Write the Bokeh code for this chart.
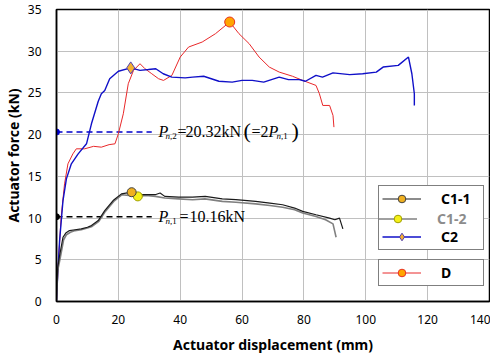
from bokeh.plotting import figure
from bokeh.models import Legend, LegendItem, Label, Range1d, FixedTicker
from bokeh.embed import file_html
from bokeh.resources import INLINE

# ---------------- data ----------------
c11_x = [0, 0.2, 0.4, 1.0, 2.1, 3.0, 4.2, 6.0, 8.0, 10.0, 11.3, 13.5, 15.6, 18.3, 21.0, 24.3, 28.0, 31.9, 33.5, 35.0,
         39.5, 44.0, 48.1, 53.6, 58.0, 64.4, 69.0, 73.1, 77.0, 79.6, 83.9, 88.3, 90.0, 91.5, 92.6]
c11_y = [0, 2.5, 4.1, 5.5, 7.7, 8.2, 8.5, 8.6, 8.7, 8.9, 9.1, 9.7, 10.9, 12.1, 12.9, 13.1, 12.8, 12.8, 13.0, 12.6,
         12.5, 12.5, 12.6, 12.3, 12.2, 12.0, 11.8, 11.6, 11.2, 10.8, 10.4, 10.0, 9.8, 10.0, 8.7]

c12_x = [0, 0.2, 0.5, 1.2, 2.3, 3.2, 4.5, 6.0, 8.0, 10.0, 11.5, 13.7, 15.8, 18.5, 21.2, 26.3, 29.0, 32.0, 35.0,
         39.5, 44.0, 48.0, 53.6, 58.0, 64.4, 69.0, 73.1, 77.0, 79.6, 83.9, 87.0, 89.4, 90.4]
c12_y = [0, 2.2, 3.9, 5.2, 7.4, 8.0, 8.3, 8.5, 8.6, 8.8, 9.0, 9.6, 10.8, 12.0, 12.8, 12.6, 12.7, 12.6, 12.4,
         12.3, 12.2, 12.3, 12.0, 11.9, 11.7, 11.5, 11.3, 11.0, 10.6, 10.2, 9.8, 9.3, 7.7]

c2_x = [0, 0.4, 1.0, 2.1, 3.2, 4.8, 7.0, 9.7, 11.3, 13.5, 14.5, 15.6, 17.2, 20.0, 24.0, 27.0, 29.7, 32.1, 34.5,
        37.3, 41.6, 44.0, 47.6, 52.5, 56.8, 60.0, 63.3, 67.0, 72.0, 75.0, 78.5, 80.5, 83.9, 86.0, 89.4, 94.8,
        99.0, 103.4, 105.6, 110.5, 113.8, 114.9, 115.7, 115.7]
c2_y = [0, 3.3, 7.3, 12.1, 14.7, 16.5, 17.7, 18.9, 21.3, 24.0, 24.9, 25.3, 26.7, 27.6, 28.0, 27.7, 27.8, 27.9, 27.3,
        26.9, 26.8, 26.9, 27.0, 26.4, 26.3, 26.5, 26.5, 26.3, 26.9, 26.6, 26.6, 26.4, 27.1, 26.9, 27.4, 27.2,
        27.3, 27.5, 28.1, 28.3, 29.3, 27.3, 24.9, 23.5]

d_x = [0, 0.5, 1.5, 2.6, 3.7, 5.3, 6.4, 9.1, 12.0, 14.5, 17.0, 18.9, 20.0, 21.6, 23.2, 24.9, 27.0, 28.6, 30.8,
       33.0, 34.6, 37.3, 40.0, 42.7, 47.1, 51.4, 56.0, 59.0, 62.3, 65.5, 68.8, 72.0, 76.3, 79.6, 83.9, 85.0,
       86.1, 88.3, 89.4, 89.7]
d_y = [0, 4.0, 10.1, 14.1, 16.5, 17.7, 18.3, 18.3, 18.6, 18.5, 18.8, 18.9, 20.1, 22.5, 26.1, 27.7, 28.5, 27.9, 27.3,
       26.7, 26.5, 27.1, 29.3, 30.5, 31.1, 32.1, 33.5, 32.1, 30.9, 29.3, 28.1, 27.5, 27.0, 26.5, 25.9, 24.9,
       23.5, 23.5, 22.3, 20.9]

peak_c11 = (24.3, 13.1)
peak_c12 = (26.3, 12.6)
peak_c2 = (24.0, 28.0)
peak_d = (56.0, 33.5)

PN1 = 10.16
PN2 = 20.32
ref_x = [0, 30.8]
text_x = 33.0

x_ticks = [0, 20, 40, 60, 80, 100, 120, 140]
y_ticks = [0, 5, 10, 15, 20, 25, 30, 35]

# ---------------- figure ----------------
p = figure(width=490, height=355, output_backend="svg", toolbar_location=None,
           x_range=Range1d(0, 140), y_range=Range1d(0, 35),
           min_border_left=47, min_border_right=1, min_border_top=8, min_border_bottom=55,
           styles={"margin-top": "1px", "margin-bottom": "-8px"})
p.outline_line_color = "black"
p.outline_line_width = 1.5
p.background_fill_color = "white"

for ax in (p.xaxis[0], p.yaxis[0]):
    ax.major_tick_line_color = None
    ax.minor_tick_line_color = None
    ax.axis_line_color = "black"
    ax.axis_line_width = 1.5
    ax.major_label_text_font = "Noto Sans"
    ax.major_label_text_font_size = "12px"
    ax.major_label_text_color = "black"
    ax.axis_label_text_font = "Noto Sans"
    ax.axis_label_text_font_style = "bold"
    ax.axis_label_text_font_size = "14px"
    ax.axis_label_text_color = "black"

p.xaxis[0].ticker = FixedTicker(ticks=x_ticks)
p.yaxis[0].ticker = FixedTicker(ticks=y_ticks)
p.xaxis[0].axis_label = "Actuator displacement (mm)"
p.yaxis[0].axis_label = "Actuator force (kN)"
p.xaxis[0].major_label_standoff = 7
p.yaxis[0].major_label_standoff = 9
p.xaxis[0].axis_label_standoff = 8
p.yaxis[0].axis_label_standoff = 2

p.grid.grid_line_color = "#c0c0c0"
p.grid.grid_line_width = 1
p.xgrid.ticker = FixedTicker(ticks=x_ticks)
p.ygrid.ticker = FixedTicker(ticks=y_ticks)

# reference dashed lines
p.line(ref_x, [PN2, PN2], line_color="#0000cc", line_width=1.6, line_dash="6 4")
p.line(ref_x, [PN1, PN1], line_color="black", line_width=1.6, line_dash="6 4")
p.scatter([0], [PN2], size=6, color="#0000cc")
p.scatter([0], [PN1], size=6, color="black")

# curves
l_d = p.line(d_x, d_y, line_color="#e8282a", line_width=1.0)
l_c2 = p.line(c2_x, c2_y, line_color="#1010c8", line_width=1.4)
l_c12 = p.line(c12_x, c12_y, line_color="#808080", line_width=1.6)
l_c11 = p.line(c11_x, c11_y, line_color="#1a1a1a", line_width=1.2)

m_c12 = p.scatter([peak_c12[0]], [peak_c12[1]], marker="circle", size=9, fill_color="#f5f018", line_color="#a0a000", line_width=1)
m_c11 = p.scatter([peak_c11[0]], [peak_c11[1]], marker="circle", size=9, fill_color="#f0b020", line_color="#404040", line_width=1)
m_c2 = p.scatter([peak_c2[0]], [peak_c2[1]], marker="diamond", size=12, fill_color="#f5b030", line_color="#5040b0", line_width=1)
m_d = p.scatter([peak_d[0]], [peak_d[1]], marker="circle", size=10, fill_color="#ffa500", line_color="#e83020", line_width=1)

def style_legend(lg):
    lg.label_text_font = "Noto Sans"
    lg.label_text_font_style = "bold"
    lg.label_text_font_size = "14px"
    lg.glyph_width = 39
    lg.glyph_height = 19
    lg.label_height = 19
    lg.label_width = 39
    lg.label_standoff = 20
    lg.spacing = 0
    lg.padding = 3
    lg.margin = 0
    lg.border_line_color = "black"
    lg.border_line_width = 1.5
    lg.background_fill_alpha = 1.0

leg1 = Legend(items=[LegendItem(label="C1-1", renderers=[l_c11, m_c11]),
                     LegendItem(label="C2", renderers=[l_c2, m_c2])],
              location=(322, 51))
style_legend(leg1)
leg1.spacing = 19
leg1.label_text_color = "black"
p.add_layout(leg1)

leg1b = Legend(items=[LegendItem(label="C1-2", renderers=[l_c12, m_c12])],
               location=(322, 73))
style_legend(leg1b)
leg1b.border_line_color = None
leg1b.background_fill_alpha = 0
leg1b.label_text_color = "#8c8c8c"
p.add_layout(leg1b)

leg2 = Legend(items=[LegendItem(label="D", renderers=[l_d, m_d])], location=(322, 15))
style_legend(leg2)
leg2.label_text_color = "black"
p.add_layout(leg2)

# annotation texts
def lab(txt, y, dx, dy=0, size="16px", italic=False):
    p.add_layout(Label(x=text_x, y=y, x_offset=dx, y_offset=dy, text=txt,
                       text_font="Liberation Serif", text_font_size=size,
                       text_font_style="italic" if italic else "normal",
                       text_baseline="middle", text_color="black"))

lab("P", PN2, 0, italic=True)
lab("n", PN2, 7, -4, "9px", True)
lab(",2", PN2, 11.5, -4, "9px")
lab("=", PN2, 19)
lab("20.32kN", PN2, 27)
lab("(", PN2, 85, 1, "22px")
lab("=", PN2, 93)
lab("2", PN2, 102)
lab("P", PN2, 110, italic=True)
lab("n", PN2, 118, -4, "9px", True)
lab(",1", PN2, 122.5, -4, "9px")
lab(")", PN2, 133, 1, "22px")

lab("P", PN1, 0, italic=True)
lab("n", PN1, 7, -4, "9px", True)
lab(",1", PN1, 11.5, -4, "9px")
lab("=", PN1, 21)
lab("10.16kN", PN1, 31)

open("out.html", "w").write(file_html(p, INLINE))
